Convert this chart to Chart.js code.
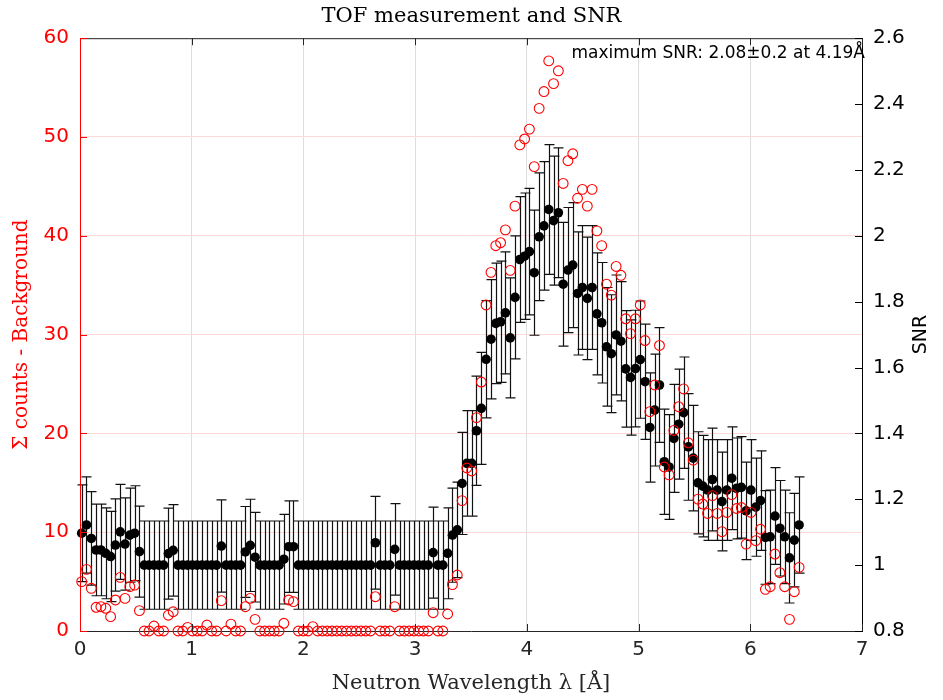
<!DOCTYPE html>
<html>
<head>
<meta charset="utf-8">
<title>TOF measurement and SNR</title>
<script src="https://cdn.jsdelivr.net/npm/chart.js@4.4.1/dist/chart.umd.min.js"></script>
<style>
  html, body { margin: 0; padding: 0; background: #fff; }
  #wrap { width: 943px; height: 700px; }
</style>
</head>
<body>
<div id="wrap"><canvas id="tof" width="943" height="700"></canvas></div>
<script>
// wavelength of each TOF bin [Å]
const lambda = [
  0.015, 0.058, 0.101, 0.144, 0.187, 0.231, 0.274, 0.317, 0.360, 0.403,
  0.446, 0.489, 0.532, 0.575, 0.618, 0.662, 0.705, 0.748, 0.791, 0.834,
  0.877, 0.920, 0.963, 1.006, 1.049, 1.093, 1.136, 1.179, 1.222, 1.265,
  1.308, 1.351, 1.394, 1.437, 1.480, 1.524, 1.567, 1.610, 1.653, 1.696,
  1.739, 1.782, 1.825, 1.868, 1.911, 1.955, 1.998, 2.041, 2.084, 2.127,
  2.170, 2.213, 2.256, 2.299, 2.342, 2.386, 2.429, 2.472, 2.515, 2.558,
  2.601, 2.644, 2.687, 2.730, 2.773, 2.817, 2.860, 2.903, 2.946, 2.989,
  3.032, 3.075, 3.118, 3.161, 3.204, 3.248, 3.291, 3.334, 3.377, 3.420,
  3.463, 3.506, 3.549, 3.592, 3.635, 3.679, 3.722, 3.765, 3.808, 3.851,
  3.894, 3.937, 3.980, 4.023, 4.066, 4.110, 4.153, 4.196, 4.239, 4.282,
  4.325, 4.368, 4.411, 4.454, 4.497, 4.541, 4.584, 4.627, 4.670, 4.713,
  4.756, 4.799, 4.842, 4.885, 4.928, 4.972, 5.015, 5.058, 5.101, 5.144,
  5.187, 5.230, 5.273, 5.316, 5.359, 5.403, 5.446, 5.489, 5.532, 5.575,
  5.618, 5.661, 5.704, 5.747, 5.790, 5.834, 5.877, 5.920, 5.963, 6.006,
  6.049, 6.092, 6.135, 6.178, 6.221, 6.265, 6.308, 6.351, 6.394, 6.437,
];

// Σ counts - background (left axis)
const counts = [
  5.0, 6.24, 4.32, 2.4, 2.46, 2.3, 1.45, 3.14, 5.43, 3.3,
  4.49, 4.65, 2.06, 0, 0, 0.5, 0, 0, 1.6, 1.95,
  0, 0, 0.37, 0, 0, 0, 0.6, 0, 0, 3.07,
  0, 0.7, 0, 0, 2.46, 3.3, 1.18, 0, 0, 0,
  0, 0, 0.78, 3.14, 2.97, 0, 0, 0, 0.44, 0,
  0, 0, 0, 0, 0, 0, 0, 0, 0, 0,
  0, 3.47, 0, 0, 0, 2.46, 0, 0, 0, 0,
  0, 0, 0, 1.85, 0, 0, 1.72, 4.7, 5.67, 13.2,
  16.5, 16.2, 21.6, 25.2, 33.0, 36.3, 39.0, 39.3, 40.6, 36.5,
  43.0, 49.2, 49.8, 50.8, 47.0, 52.9, 54.6, 57.7, 55.4, 56.7,
  45.3, 47.6, 48.3, 43.8, 44.7, 43.0, 44.7, 40.5, 39.0, 35.1,
  34.0, 36.9, 36.0, 31.6, 30.1, 31.6, 33.0, 29.4, 22.2, 24.9,
  28.9, 16.6, 15.8, 20.3, 22.7, 24.5, 19.05, 17.3, 13.35, 12.85,
  11.9, 13.7, 11.9, 10.05, 12.0, 13.8, 12.4, 12.5, 8.8, 12.0,
  9.14, 10.3, 4.22, 4.48, 7.79, 5.9, 4.48, 1.18, 3.98, 6.44,
];

// SNR (right axis)
const snr = [
  1.097, 1.122, 1.081, 1.046, 1.046, 1.036, 1.026, 1.061, 1.101, 1.064,
  1.091, 1.097, 1.041, 1, 1, 1, 1, 1, 1.035, 1.045,
  1, 1, 1, 1, 1, 1, 1, 1, 1, 1.058,
  1, 1, 1, 1, 1.04, 1.06, 1.024, 1, 1, 1,
  1, 1, 1.018, 1.056, 1.056, 1, 1, 1, 1, 1,
  1, 1, 1, 1, 1, 1, 1, 1, 1, 1,
  1, 1.068, 1, 1, 1, 1.048, 1, 1, 1, 1,
  1, 1, 1, 1.038, 1, 1, 1.036, 1.091, 1.107, 1.248,
  1.309, 1.309, 1.408, 1.476, 1.625, 1.686, 1.734, 1.739, 1.766, 1.690,
  1.813, 1.928, 1.938, 1.952, 1.888, 1.997, 2.030, 2.08, 2.046, 2.070,
  1.853, 1.896, 1.911, 1.825, 1.843, 1.810, 1.843, 1.763, 1.736, 1.663,
  1.642, 1.699, 1.680, 1.596, 1.570, 1.597, 1.624, 1.557, 1.418, 1.471,
  1.547, 1.314, 1.298, 1.385, 1.428, 1.463, 1.359, 1.325, 1.25, 1.24,
  1.228, 1.26, 1.228, 1.193, 1.228, 1.264, 1.233, 1.236, 1.165, 1.228,
  1.176, 1.196, 1.084, 1.086, 1.149, 1.112, 1.086, 1.022, 1.076, 1.122,
];

// SNR uncertainty (half length of error bar)
const snrErr = [
  0.147, 0.146, 0.142, 0.139, 0.139, 0.138, 0.137, 0.140, 0.144, 0.140,
  0.143, 0.144, 0.138, 0.134, 0.134, 0.134, 0.134, 0.134, 0.138, 0.139,
  0.134, 0.134, 0.134, 0.134, 0.134, 0.134, 0.134, 0.134, 0.134, 0.140,
  0.134, 0.134, 0.134, 0.134, 0.138, 0.140, 0.136, 0.134, 0.134, 0.134,
  0.134, 0.134, 0.136, 0.139, 0.139, 0.134, 0.134, 0.134, 0.134, 0.134,
  0.134, 0.134, 0.134, 0.134, 0.134, 0.134, 0.134, 0.134, 0.134, 0.134,
  0.134, 0.141, 0.134, 0.134, 0.134, 0.139, 0.134, 0.134, 0.134, 0.134,
  0.134, 0.134, 0.134, 0.138, 0.134, 0.134, 0.138, 0.143, 0.145, 0.155,
  0.160, 0.160, 0.166, 0.170, 0.178, 0.181, 0.183, 0.184, 0.185, 0.182,
  0.187, 0.191, 0.192, 0.192, 0.190, 0.194, 0.195, 0.197, 0.196, 0.197,
  0.188, 0.190, 0.190, 0.187, 0.188, 0.186, 0.188, 0.185, 0.183, 0.180,
  0.179, 0.182, 0.181, 0.177, 0.175, 0.177, 0.178, 0.175, 0.166, 0.170,
  0.174, 0.160, 0.159, 0.164, 0.167, 0.169, 0.162, 0.160, 0.155, 0.154,
  0.153, 0.156, 0.153, 0.150, 0.153, 0.156, 0.153, 0.154, 0.148, 0.153,
  0.149, 0.151, 0.142, 0.142, 0.147, 0.145, 0.142, 0.137, 0.142, 0.146,
];

const RED = '#ff0000';
const AX = '#262626';
const SANS = 'DejaVu Sans';
const SERIF = 'DejaVu Serif';

// error bars on the SNR points
const errorBars = {
  id: 'errorBars',
  beforeDatasetsDraw(chart) {
    const { ctx, scales: { x, y1 } } = chart;
    ctx.save();
    ctx.strokeStyle = '#111';
    ctx.lineWidth = 1.2;
    ctx.beginPath();
    lambda.forEach((l, i) => {
      const px = Math.round(x.getPixelForValue(l)) + 0.5;
      const top = y1.getPixelForValue(snr[i] + snrErr[i]);
      const bot = y1.getPixelForValue(snr[i] - snrErr[i]);
      ctx.moveTo(px, top); ctx.lineTo(px, bot);
      ctx.moveTo(px - 5, top); ctx.lineTo(px + 5, top);
      ctx.moveTo(px - 5, bot); ctx.lineTo(px + 5, bot);
    });
    ctx.stroke();
    ctx.restore();
  },
};

// box, inner ticks, right label and the max-SNR note
const frame = {
  id: 'frame',
  afterDraw(chart) {
    const { ctx, chartArea: a, scales: { x, y, y1 } } = chart;
    ctx.save();
    ctx.lineWidth = 1;
    ctx.strokeStyle = AX;
    ctx.beginPath();
    ctx.moveTo(a.left, a.top + 0.5); ctx.lineTo(a.right, a.top + 0.5);
    for (let v = 0; v <= 7; v++) {
      const px = Math.round(x.getPixelForValue(v)) + 0.5;
      ctx.moveTo(px, a.bottom); ctx.lineTo(px, a.bottom - 7);
      ctx.moveTo(px, a.top); ctx.lineTo(px, a.top + 7);
    }
    ctx.stroke();

    ctx.strokeStyle = RED;
    ctx.beginPath();
    for (let v = 0; v <= 60; v += 10) {
      const py = Math.round(y.getPixelForValue(v)) + 0.5;
      ctx.moveTo(a.left, py); ctx.lineTo(a.left + 7, py);
    }
    ctx.moveTo(a.left + 0.5, a.top); ctx.lineTo(a.left + 0.5, a.bottom);
    ctx.stroke();

    ctx.strokeStyle = '#000';
    ctx.beginPath();
    for (let k = 0; k <= 9; k++) {
      const py = Math.round(y1.getPixelForValue(0.8 + k * 0.2)) + 0.5;
      ctx.moveTo(a.right, py); ctx.lineTo(a.right - 7, py);
    }
    ctx.stroke();

    ctx.fillStyle = '#000';
    ctx.font = `19px "${SANS}"`;
    ctx.textAlign = 'center';
    ctx.textBaseline = 'middle';
    ctx.translate(921, (a.top + a.bottom) / 2);
    ctx.rotate(-Math.PI / 2);
    ctx.fillText('SNR', 0, 0);
    ctx.setTransform(1, 0, 0, 1, 0, 0);

    ctx.font = `17px "${SANS}"`;
    ctx.textAlign = 'right';
    ctx.textBaseline = 'alphabetic';
    ctx.fillStyle = '#000';
    ctx.fillText('maximum SNR: 2.08±0.2 at 4.19Å', 865, 58);
    ctx.restore();
  },
};

new Chart(document.getElementById('tof'), {
  type: 'scatter',
  data: {
    datasets: [
      {
        label: 'counts',
        data: lambda.map((l, i) => ({ x: l, y: counts[i] })),
        yAxisID: 'y',
        pointRadius: 4.9,
        pointBorderWidth: 1.1,
        pointBorderColor: RED,
        pointBackgroundColor: 'rgba(0,0,0,0)',
        clip: false,
      },
      {
        label: 'SNR',
        data: lambda.map((l, i) => ({ x: l, y: snr[i] })),
        yAxisID: 'y1',
        pointRadius: 4.8,
        pointBorderWidth: 0,
        pointBackgroundColor: '#000',
        pointBorderColor: '#000',
        clip: false,
      },
    ],
  },
  options: {
    responsive: false,
    animation: false,
    devicePixelRatio: 1,
    layout: { padding: 0 },
    plugins: {
      legend: { display: false },
      tooltip: { enabled: false },
      title: {
        display: true,
        text: 'TOF measurement and SNR',
        color: '#000',
        font: { family: SERIF, size: 21, weight: 'normal' },
        padding: { top: 4, bottom: 9 },
      },
    },
    scales: {
      x: {
        type: 'linear', min: 0, max: 7,
        ticks: { stepSize: 1, color: AX, font: { family: SANS, size: 20 }, padding: 7 },
        grid: { color: '#dedede', drawTicks: false },
        border: { color: AX },
        title: {
          display: true, text: 'Neutron Wavelength λ [Å]', color: AX,
          font: { family: SERIF, size: 21 }, padding: { top: 0, bottom: 4 },
        },
        afterFit: (s) => { s.height = 69; },
      },
      y: {
        position: 'left', min: 0, max: 60,
        ticks: { stepSize: 10, color: RED, font: { family: SANS, size: 20 }, padding: 11 },
        grid: { color: '#ffd9d9', drawTicks: false },
        border: { color: RED },
        title: {
          display: true, text: 'Σ counts - Background', color: RED,
          font: { family: SERIF, size: 20 }, padding: { top: 10, bottom: 0 },
        },
        afterFit: (s) => { s.width = 80; },
      },
      y1: {
        position: 'right', min: 0.8, max: 2.6,
        ticks: {
          stepSize: 0.2, color: '#000', font: { family: SANS, size: 20 }, padding: 11,
          callback: (v) => +v.toFixed(1),
        },
        grid: { display: false, drawTicks: false },
        border: { color: '#000' },
        afterFit: (s) => { s.width = 81; },
      },
    },
  },
  plugins: [errorBars, frame],
});
</script>
</body>
</html>
